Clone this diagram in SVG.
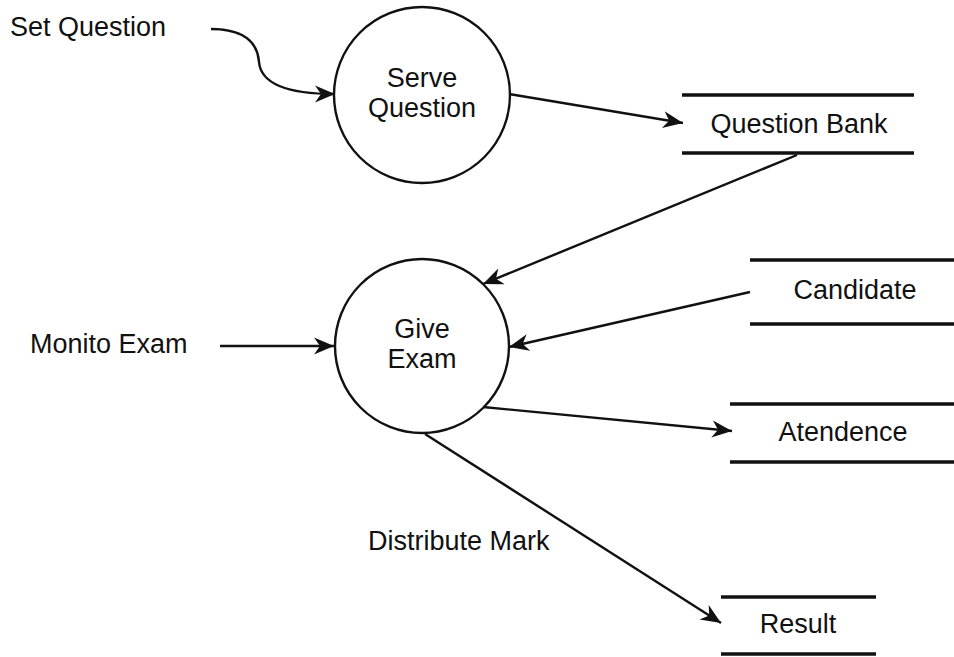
<svg xmlns="http://www.w3.org/2000/svg" width="954" height="657" viewBox="0 0 954 657">
<style>
text{font-family:"Liberation Sans",Arial,sans-serif;font-size:27px;fill:#111;}
.c{text-anchor:middle;}
.proc{fill:none;stroke:#111;stroke-width:2.4;}
.store{stroke:#111;stroke-width:3.4;}
.flow{fill:none;stroke:#111;stroke-width:2.4;marker-end:url(#ah);}
</style>
<defs>
<marker id="ah" markerUnits="userSpaceOnUse" markerWidth="22" markerHeight="20" refX="20" refY="9" orient="auto">
<path d="M0,0.5 L20,9 L0,17.5 L6,9 z" fill="#111"/>
</marker>
</defs>
<rect width="954" height="657" fill="#fff"/>
<g id="serve-question">
<circle class="proc" cx="422" cy="95" r="88"/>
<text class="c" x="422" y="87">Serve</text>
<text class="c" x="422" y="117">Question</text>
</g>
<g id="give-exam">
<circle class="proc" cx="422" cy="346" r="87"/>
<text class="c" x="422" y="338">Give</text>
<text class="c" x="422" y="368">Exam</text>
</g>
<g id="question-bank">
<line class="store" x1="682" y1="95" x2="914" y2="95"/>
<line class="store" x1="682" y1="153" x2="914" y2="153"/>
<text class="c" x="799" y="133">Question Bank</text>
</g>
<g id="candidate">
<line class="store" x1="750" y1="260" x2="954" y2="260"/>
<line class="store" x1="750" y1="324" x2="954" y2="324"/>
<text class="c" x="855" y="299">Candidate</text>
</g>
<g id="atendence">
<line class="store" x1="730" y1="404" x2="954" y2="404"/>
<line class="store" x1="730" y1="462" x2="954" y2="462"/>
<text class="c" x="843" y="441">Atendence</text>
</g>
<g id="result">
<line class="store" x1="721" y1="597" x2="876" y2="597"/>
<line class="store" x1="721" y1="654" x2="876" y2="654"/>
<text class="c" x="798" y="633">Result</text>
</g>
<g id="set-question">
<text x="10" y="36">Set Question</text>
</g>
<g id="monito-exam">
<text x="30" y="353">Monito Exam</text>
</g>
<g id="distribute-mark">
<text x="368" y="550">Distribute Mark</text>
</g>
<g id="connectors">
<path class="flow" d="M211,29 C250,29 258,48 259,62 C261,85 290,94 335,94"/>
<path class="flow" d="M509,94 L683,123"/>
<path class="flow" d="M797,155 L483,284"/>
<path class="flow" d="M750,292 L509,347"/>
<path class="flow" d="M220,346 L334,346"/>
<path class="flow" d="M483,407 L732,431"/>
<path class="flow" d="M425,434 L721,623"/>
</g>
</svg>
